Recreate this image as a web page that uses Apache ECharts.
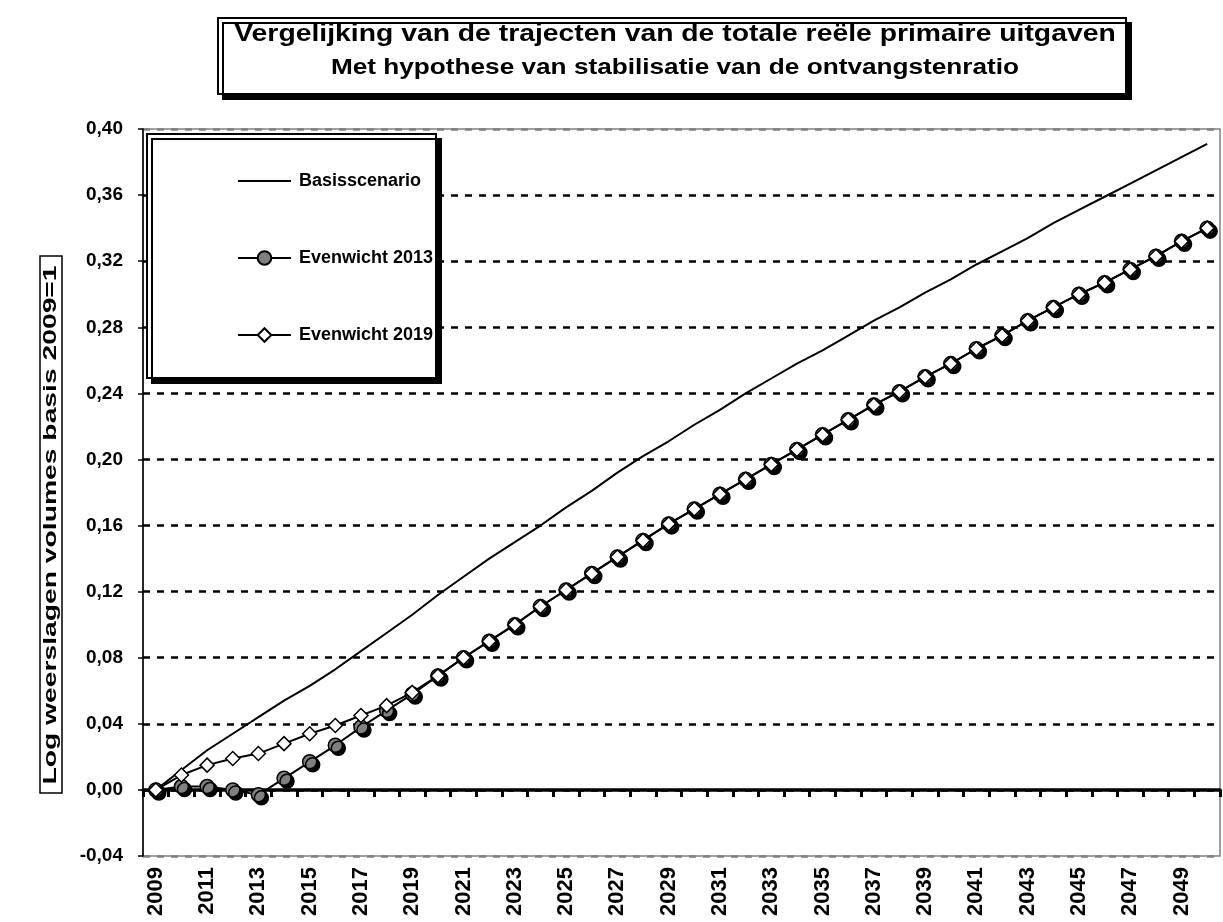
<!DOCTYPE html>
<html><head><meta charset="utf-8">
<script src="https://cdn.jsdelivr.net/npm/echarts@6/dist/echarts.min.js"></script>
<style>html,body{margin:0;padding:0;background:#fff}#c{width:1223px;height:922px}</style>
</head><body><div id="c"></div>
<script>
const years = ['2009','2010','2011','2012','2013','2014','2015','2016','2017','2018','2019','2020','2021','2022','2023','2024','2025','2026','2027','2028','2029','2030','2031','2032','2033','2034','2035','2036','2037','2038','2039','2040','2041','2042','2043','2044','2045','2046','2047','2048','2049','2050'];
const basisscenario = [0.000,0.012,0.024,0.034,0.044,0.054,0.063,0.073,0.084,0.095,0.106,0.118,0.129,0.140,0.150,0.160,0.171,0.181,0.192,0.202,0.211,0.221,0.230,0.240,0.249,0.258,0.266,0.275,0.284,0.292,0.301,0.309,0.318,0.326,0.334,0.343,0.351,0.359,0.367,0.375,0.383,0.391];
const evenwicht2013 = [0.000,0.002,0.002,0.000,-0.003,0.007,0.017,0.027,0.038,0.048,0.058,0.069,0.080,0.090,0.100,0.111,0.121,0.131,0.141,0.151,0.161,0.170,0.179,0.188,0.197,0.206,0.215,0.224,0.233,0.241,0.250,0.258,0.267,0.275,0.284,0.292,0.300,0.307,0.315,0.323,0.332,0.340];
const evenwicht2019 = [0.000,0.009,0.015,0.019,0.022,0.028,0.034,0.039,0.045,0.051,0.059,0.069,0.080,0.090,0.100,0.111,0.121,0.131,0.141,0.151,0.161,0.170,0.179,0.188,0.197,0.206,0.215,0.224,0.233,0.241,0.250,0.258,0.267,0.275,0.284,0.292,0.300,0.307,0.315,0.323,0.332,0.340];
const seriesNames = ['Basisscenario','Evenwicht 2013','Evenwicht 2019'];
const titleText = 'Vergelijking van de trajecten van de totale reële primaire uitgaven';
const subtitleText = 'Met hypothese van stabilisatie van de ontvangstenratio';
const yAxisName = 'Log weerslagen volumes basis 2009=1';

const FONT = '"Liberation Sans", Arial, sans-serif';
const chart = echarts.init(document.getElementById('c'), null, {renderer: 'canvas'});
const gridColors = ['#808080','#000','#000','#000','#000','#000','#000','#000','#000','#000','#000','#808080'];

chart.setOption({
  animation: false,
  backgroundColor: '#fff',
  grid: {left: 143, right: 3, top: 129, bottom: 66, show: true, borderColor: '#808080', borderWidth: 1.5, backgroundColor: 'transparent'},
  xAxis: [
    {type: 'category', data: years, boundaryGap: true, position: 'bottom',
     axisLine: {show: false, onZero: false}, axisTick: {show: false},
     axisLabel: {interval: 1, rotate: 90, fontFamily: FONT, fontWeight: 'bold', fontSize: 22, color: '#000', margin: 11},
     splitLine: {show: false}},
    {type: 'category', data: years, boundaryGap: true, position: 'bottom',
     axisLine: {show: true, onZero: true, lineStyle: {color: '#000', width: 3.5}},
     axisTick: {show: true, interval: 0, length: 7, lineStyle: {color: '#000', width: 3}},
     axisLabel: {show: false}, splitLine: {show: false}}
  ],
  yAxis: {type: 'value', min: -0.04, max: 0.40, interval: 0.04,
    axisLine: {show: true, onZero: false, lineStyle: {color: '#000', width: 1.5}},
    axisTick: {show: true, length: 5, lineStyle: {color: '#000', width: 1.5}},
    axisLabel: {fontFamily: FONT, fontWeight: 'bold', fontSize: 19, color: '#000', margin: 20,
      formatter: v => v.toFixed(2).replace('.', ',')},
    splitLine: {show: true, lineStyle: {color: gridColors, type: [7, 7], width: 2.5}}
  },
  legend: {
    orient: 'vertical', left: 232, top: 167, itemGap: 59, itemWidth: 53, itemHeight: 17,
    data: seriesNames,
    textStyle: {fontFamily: FONT, fontWeight: 'bold', fontSize: 18, color: '#000', padding: [0, 0, 0, 3]},
    selectedMode: false
  },
  graphic: [
    {type: 'rect', z: 5, shape: {x: 218, y: 18, width: 908, height: 76},
     style: {fill: '#fff', stroke: '#000', lineWidth: 2, shadowColor: '#000', shadowOffsetX: 5, shadowOffsetY: 5, shadowBlur: 0}},
    {type: 'text', z: 6, x: 675, y: 34, scaleX: 1.18,
     style: {text: titleText, font: 'bold 24px ' + FONT, fill: '#000', align: 'center', verticalAlign: 'middle'}},
    {type: 'text', z: 6, x: 675, y: 68, scaleX: 1.19,
     style: {text: subtitleText, font: 'bold 22px ' + FONT, fill: '#000', align: 'center', verticalAlign: 'middle'}},
    {type: 'rect', z: 1, shape: {x: 147, y: 134, width: 289, height: 244},
     style: {fill: '#fff', stroke: '#000', lineWidth: 2, shadowColor: '#000', shadowOffsetX: 5, shadowOffsetY: 5, shadowBlur: 0}},
    {type: 'rect', z: 5, shape: {x: 40, y: 256, width: 22, height: 537},
     style: {fill: '#fff', stroke: '#000', lineWidth: 1.5}},
    {type: 'text', z: 6, x: 51, y: 525, rotation: Math.PI / 2, scaleX: 1.57,
     style: {text: yAxisName, font: 'bold 18px ' + FONT, fill: '#000', align: 'center', verticalAlign: 'middle'}}
  ],
  series: [
    {name: seriesNames[0], type: 'line', data: basisscenario, showSymbol: false, symbol: 'none',
     lineStyle: {color: '#000', width: 2}, itemStyle: {color: 'transparent', borderWidth: 0}, z: 3},
    {name: seriesNames[1], type: 'line', data: evenwicht2013, symbol: 'circle', symbolSize: 14,
     lineStyle: {color: '#000', width: 2},
     itemStyle: {color: '#808080', borderColor: '#000', borderWidth: 1.5, shadowColor: '#000', shadowOffsetX: 3, shadowOffsetY: 3, shadowBlur: 0}, z: 4},
    {name: seriesNames[2], type: 'line', data: evenwicht2019, symbol: 'diamond', symbolSize: 14,
     lineStyle: {color: '#000', width: 2},
     itemStyle: {color: '#fff', borderColor: '#000', borderWidth: 1.5}, z: 5}
  ]
});
</script></body></html>
